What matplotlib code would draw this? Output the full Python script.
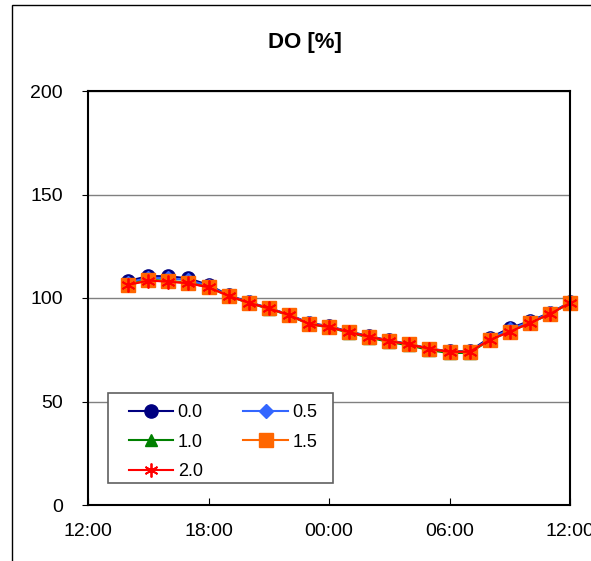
import numpy as np
import matplotlib.pyplot as plt
from matplotlib.patches import Rectangle

plt.rcParams['font.family'] = ['Liberation Sans', 'DejaVu Sans']

# hourly values, 14:00 -> 12:00 next day (hours counted from 00:00 of first day)
hours = list(range(14, 37))
do_00 = [108.2, 110.6, 110.5, 109.5, 106.3, 101.4, 98.0, 95.2, 92.0, 88.0, 86.4,
         83.8, 81.6, 79.5, 77.8, 75.6, 74.2, 74.3, 80.8, 85.4, 88.9, 92.8, 97.9]
do_05 = [107.4, 109.8, 109.6, 108.6, 105.9, 101.2, 97.9, 95.1, 91.9, 87.8, 86.2,
         83.6, 81.4, 79.3, 77.6, 75.3, 73.9, 74.0, 80.3, 84.8, 88.5, 92.6, 97.8]
do_10 = [106.6, 108.8, 108.3, 107.4, 105.3, 100.9, 97.6, 94.8, 91.6, 87.4, 85.8,
         83.2, 80.9, 78.7, 77.1, 74.8, 73.4, 73.5, 79.6, 83.9, 87.8, 92.2, 97.5]
do_15 = [106.4, 108.5, 108.0, 107.2, 105.2, 101.0, 97.7, 95.0, 91.8, 87.5, 86.0,
         83.5, 81.3, 79.2, 77.6, 75.4, 74.0, 74.0, 79.7, 83.8, 87.9, 92.4, 97.6]
do_20 = [106.3, 108.4, 107.9, 107.1, 105.2, 101.0, 97.7, 95.0, 91.8, 87.5, 86.0,
         83.5, 81.3, 79.2, 77.6, 75.4, 74.0, 74.0, 79.7, 83.7, 87.9, 92.3, 97.6]

labels = ['0.0', '0.5', '1.0', '1.5', '2.0']
xticks = [12, 18, 24, 30, 36]
xticklabels = ['12:00', '18:00', '00:00', '06:00', '12:00']
yticks = [0, 50, 100, 150, 200]

fig = plt.figure(figsize=(5.91, 5.61), dpi=100)
ax = fig.add_axes([88/591, 56/561, 482/591, 414/561])

# series: (data, colour, marker, size)
series = [
    (do_00, '#000080', 'o', 9.5),
    (do_05, '#3366FF', 'D', 7),
    (do_10, '#008000', '^', 9),
    (do_15, '#FF6600', 's', 9.5),
    (do_20, '#FF0000', (6, 2, 0), 10),
]
lines = []
for (y, c, m, ms), lab in zip(series, labels):
    ln, = ax.plot(hours, y, color=c, marker=m, markersize=ms, lw=1.5, label=lab,
                  markeredgecolor=c, markeredgewidth=1.3 if m == (6, 2, 0) else 1,
                  clip_on=False)
    lines.append(ln)

ax.set_xlim(12, 36)
ax.set_ylim(0, 200)
ax.set_xticks(xticks)
ax.set_xticklabels(xticklabels)
ax.set_yticks(yticks)
ax.yaxis.grid(True, color='#808080', lw=1)
ax.set_axisbelow(True)
ax.tick_params(axis='x', direction='in', length=5, pad=13, labelsize=14)
ax.tick_params(axis='y', direction='out', length=4, pad=14, labelsize=14)
for s in ax.spines.values():
    s.set_linewidth(1.5)

# title sits over the middle of the whole chart box, not the plot area
ax.set_title('DO [%]', fontsize=16, fontweight='bold', pad=31, x=0.45)

# legend filled row by row like the original (matplotlib fills columns)
order = [0, 2, 4, 1, 3]
leg = ax.legend([lines[i] for i in order], [labels[i] for i in order], ncol=2,
                loc='upper left', bbox_to_anchor=(0.085, 0.244), borderaxespad=0,
                borderpad=0, fontsize=13, handlelength=2.45, handletextpad=0.25,
                columnspacing=2.25, labelspacing=0.7, frameon=False)
# legend box drawn separately so the inner margins match
ax.add_patch(Rectangle((0.0415, 0.0531), 0.467, 0.2174, transform=ax.transAxes,
                       facecolor='white', edgecolor='#606060', lw=1.2, zorder=4))
leg.set_zorder(5)

# outer chart frame
fig.patches.append(Rectangle((12/591, -0.1), 1.2, (556/561) + 0.1, transform=fig.transFigure,
                             fill=False, edgecolor='black', lw=1))

plt.savefig('out.png', dpi=100)
